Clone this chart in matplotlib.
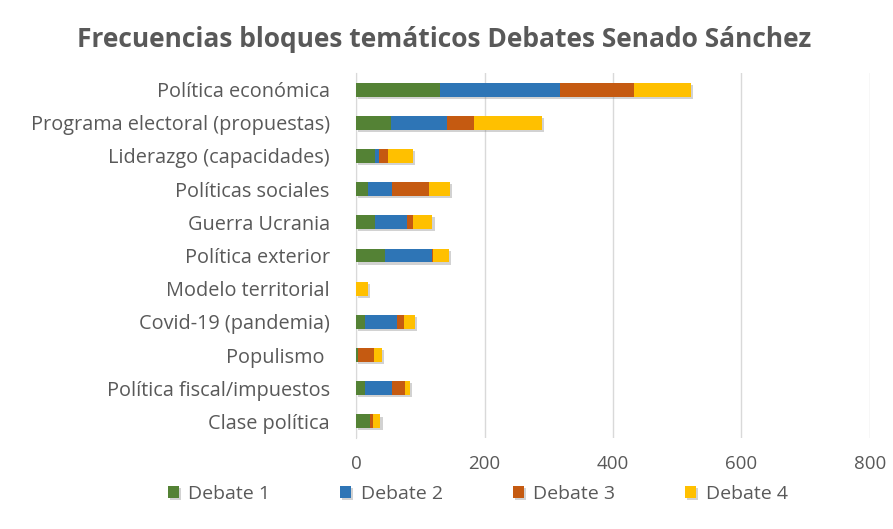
import matplotlib
matplotlib.use("Agg")
import matplotlib.pyplot as plt
import matplotlib.patheffects as pe
import numpy as np

categories = [
    "Política económica",
    "Programa electoral (propuestas)",
    "Liderazgo (capacidades)",
    "Políticas sociales",
    "Guerra Ucrania",
    "Política exterior",
    "Modelo territorial",
    "Covid-19 (pandemia)",
    "Populismo ",
    "Política fiscal/impuestos",
    "Clase política",
]
debate_1 = [131, 54, 30, 19, 30, 45, 0, 14, 3, 14, 22]
debate_2 = [186, 87, 5, 37, 50, 73, 0, 49, 0, 42, 0]
debate_3 = [116, 42, 14, 57, 9, 2, 0, 11, 25, 20, 5]
debate_4 = [88, 107, 39, 33, 30, 25, 19, 18, 12, 8, 11]
series_names = ["Debate 1", "Debate 2", "Debate 3", "Debate 4"]
colors = ["#548235", "#2E75B6", "#C55A11", "#FFC000"]
x_ticks = [0, 200, 400, 600, 800]

text_color = "#595959"
plt.rcParams["font.family"] = ["Open Sans", "DejaVu Sans"]

fig = plt.figure(figsize=(8.93, 5.29), dpi=100)
ax = fig.add_axes([0.3987, 0.172, 0.5755, 0.69])

y = np.arange(len(categories))
left = np.zeros(len(categories))
shadow = [pe.SimplePatchShadow(offset=(1.5, -1.5), alpha=0.35, shadow_rgbFace="#808080"), pe.Normal()]
handles = []
for name, vals, col in zip(series_names, [debate_1, debate_2, debate_3, debate_4], colors):
    vals = np.array(vals, dtype=float)
    bars = ax.barh(y, vals, left=left, height=0.42, color=col, label=name, zorder=3)
    for b in bars:
        b.set_path_effects(shadow)
    left += vals
    handles.append(bars)

ax.set_ylim(len(categories) - 0.5, -0.5)
ax.set_xlim(0, 800)
ax.set_xticks(x_ticks)
ax.set_xticklabels([str(t) for t in x_ticks], fontsize=13.5, color=text_color)
ax.set_yticks(y)
ax.set_yticklabels(categories, fontsize=14.3, color=text_color)
ax.tick_params(axis="both", length=0)
ax.tick_params(axis="x", pad=12)
ax.tick_params(axis="y", pad=19)
ax.grid(axis="x", color="#d9d9d9", linewidth=1, zorder=0)
for s in ["top", "right", "bottom"]:
    ax.spines[s].set_visible(False)
ax.spines["left"].set_color("#d9d9d9")
ax.spines["left"].set_zorder(1)

fig.text(0.497, 0.925, "Frecuencias bloques temáticos Debates Senado Sánchez",
         ha="center", va="center", fontsize=19, fontweight="bold", color=text_color)

leg = fig.legend(handles=handles, labels=series_names, loc="center",
                 bbox_to_anchor=(0.535, 0.066), ncol=4, frameon=False,
                 fontsize=14, handlelength=0.55, handleheight=0.55,
                 columnspacing=3.6, handletextpad=0.5, labelcolor=text_color)

fig.savefig("out.png", dpi=100, facecolor="white")
